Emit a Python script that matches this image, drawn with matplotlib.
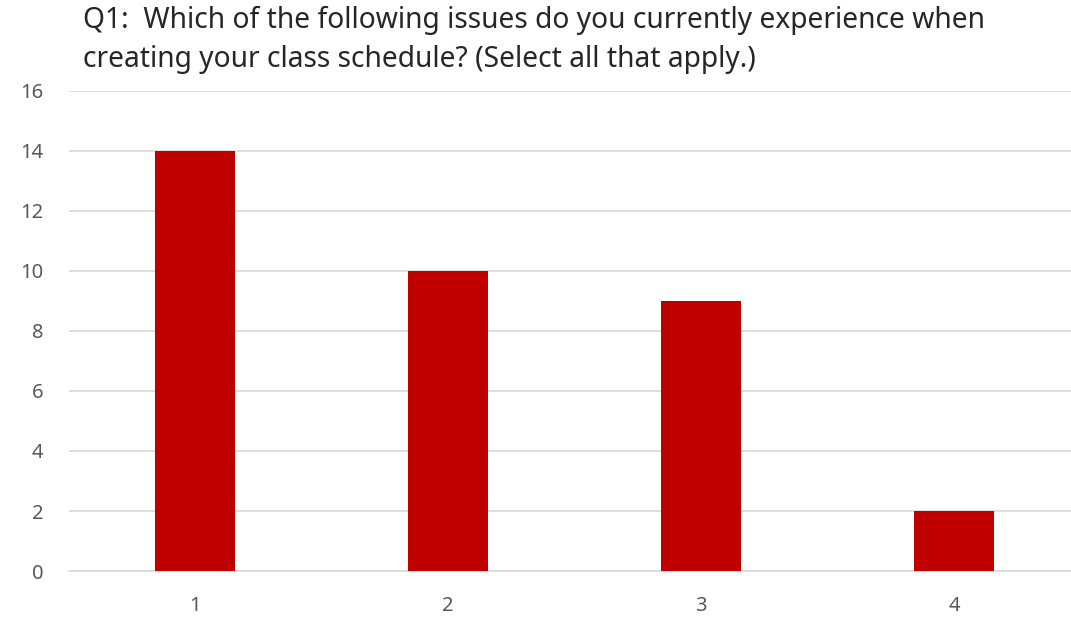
import numpy as np
import matplotlib.pyplot as plt

# Responses per issue
categories = ["1", "2", "3", "4"]
counts = [14, 10, 9, 2]

title = ("Q1:  Which of the following issues do you currently experience when\n"
         "creating your class schedule? (Select all that apply.)")

plt.rcParams['font.family'] = ['Noto Sans', 'DejaVu Sans']

fig = plt.figure(figsize=(10.71, 6.18), dpi=100)
ax = fig.add_axes([0.064, 0.076, 0.945, 0.777])

x = np.arange(1, len(categories) + 1)
ax.bar(x, counts, width=0.316, color='#C00000', zorder=3)

ax.set_xlim(0.5, 4.5)
ax.set_ylim(0, 16)
ax.set_yticks(np.arange(0, 17, 2))
ax.set_xticks(x)
ax.set_xticklabels(categories)

ax.grid(axis='y', color='#d9d9d9', linewidth=1.2, zorder=0)
for side in ['top', 'right', 'left']:
    ax.spines[side].set_visible(False)
ax.spines['bottom'].set_color('#d9d9d9')
ax.spines['bottom'].set_linewidth(1.2)

ax.tick_params(axis='both', length=0, labelsize=14.5, labelcolor='#595959')
ax.tick_params(axis='y', pad=18)
ax.tick_params(axis='x', pad=18)

fig.text(0.0775, 0.99, title, ha='left', va='top', fontsize=20.3,
         color='#262626', linespacing=1.42)

fig.savefig('out.png', dpi=100)
